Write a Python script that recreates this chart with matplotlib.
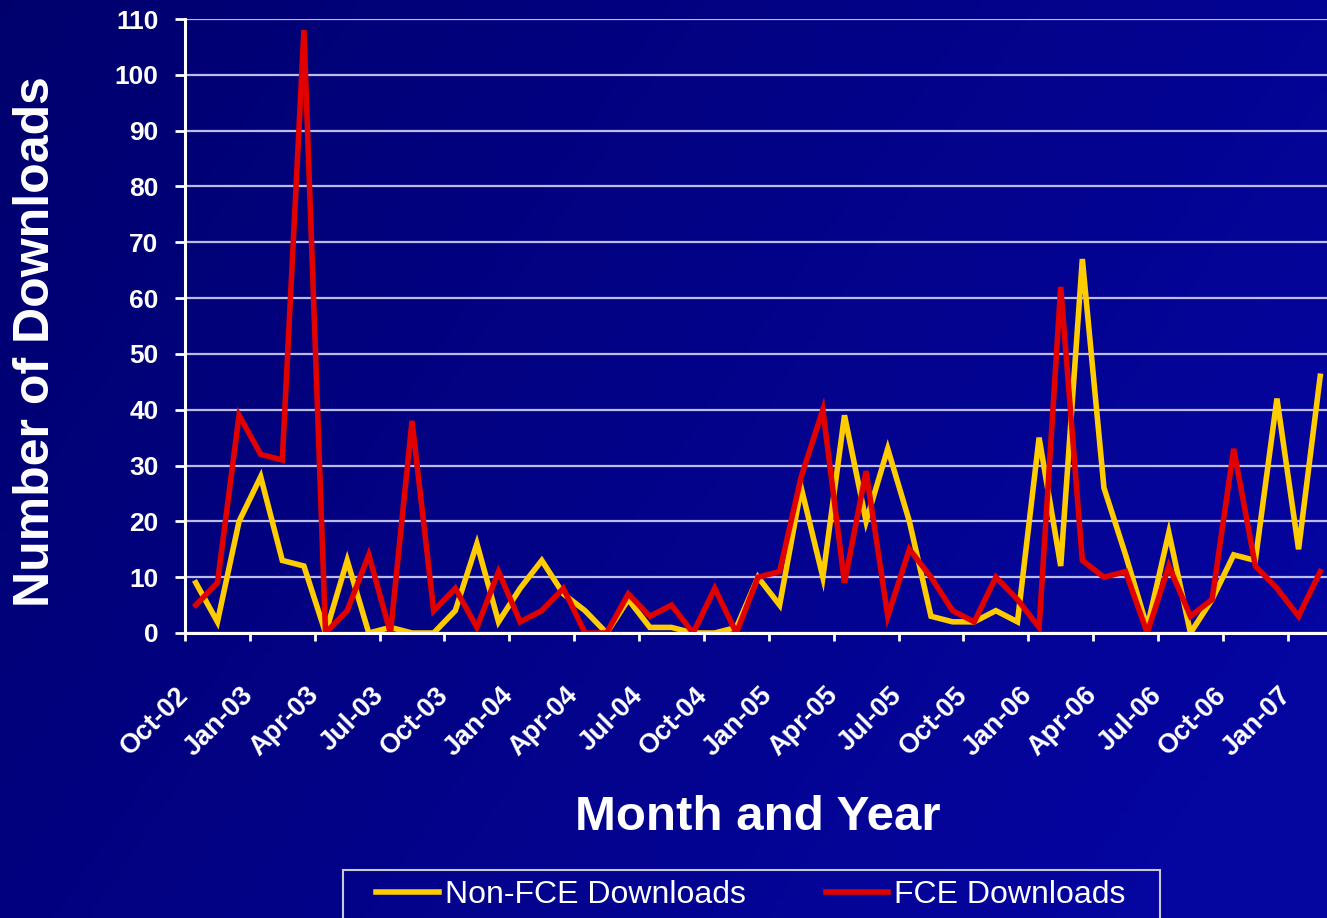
import numpy as np
import matplotlib
matplotlib.use("Agg")
import matplotlib.pyplot as plt
from matplotlib.patches import Rectangle

# monthly downloads, Oct-02 .. Feb-07
non_fce = [9, 2, 20, 28, 13, 12, 0, 13, 0, 1,
           0, 0, 4, 16, 2, 8, 13, 7, 4, 0,
           6, 1, 1, 0, 0, 1, 10, 5, 26, 10,
           39, 20, 33, 20, 3, 2, 2, 4, 2, 35,
           12, 67, 26, 14, 1, 18, 0, 6, 14, 13,
           42, 15, 46]
fce = [5, 9, 39, 32, 31, 108, 0, 4, 14, 0,
       38, 4, 8, 1, 11, 2, 4, 8, 0, 0,
       7, 3, 5, 0, 8, 0, 10, 11, 28, 40,
       9, 29, 3, 15, 10, 4, 2, 10, 6, 1,
       62, 13, 10, 11, 0, 12, 3, 6, 33, 12,
       8, 3, 11]
tick_labels = ["Oct-02", "Jan-03", "Apr-03", "Jul-03", "Oct-03", "Jan-04",
               "Apr-04", "Jul-04", "Oct-04", "Jan-05", "Apr-05", "Jul-05",
               "Oct-05", "Jan-06", "Apr-06", "Jul-06", "Oct-06", "Jan-07"]
y_ticks = list(range(0, 111, 10))

plt.rcParams['font.family'] = ['Liberation Sans', 'DejaVu Sans']

W, H = 1327, 918
fig = plt.figure(figsize=(W / 100, H / 100), dpi=100)

# gradient background
bg = fig.add_axes([0, 0, 1, 1], zorder=-10)
gx, gy = np.meshgrid(np.linspace(0, 1, 200), np.linspace(0, 1, 200))
t = np.clip(0.75 * gx + 0.35 * gy, 0, 1)
dark = np.array([0.0, 0.0, 0.43])
bright = np.array([0.02, 0.02, 0.63])
img = dark + (bright - dark) * t[..., None]
bg.imshow(img, aspect='auto', extent=[0, 1, 1, 0])
bg.set_axis_off()

left = 185 / W
bottom = 1 - 633 / H
top = 1 - 19 / H
right = 1331 / W
ax = fig.add_axes([left, bottom, right - left, top - bottom])
ax.patch.set_alpha(0)

x = np.arange(len(non_fce))
l1, = ax.plot(x, non_fce, color='#FFCC00', lw=4, label='Non-FCE Downloads',
              solid_joinstyle='miter')
l2, = ax.plot(x, fce, color='#E00000', lw=4, label='FCE Downloads',
              solid_joinstyle='miter')

ax.set_xlim(-0.5, len(non_fce) - 0.5)
ax.set_ylim(0, 110)
ax.set_yticks(y_ticks)
ax.yaxis.grid(True, color='#BCBCE8', lw=1.6)
ax.set_axisbelow(True)

for s in ['top', 'right']:
    ax.spines[s].set_visible(False)
for s in ['left', 'bottom']:
    ax.spines[s].set_color('white')
    ax.spines[s].set_linewidth(2.2)

ax.set_xticks(np.arange(0, len(non_fce), 3) - 0.5)
ax.set_xticklabels(tick_labels, rotation=45, ha='right', va='center',
                   rotation_mode='anchor')
ax.tick_params(axis='x', colors='white', length=6, width=2, pad=36,
               labelsize=19.5)
ax.tick_params(axis='y', colors='white', length=7, width=2, pad=12,
               labelsize=19)
for lab in ax.get_xticklabels() + ax.get_yticklabels():
    lab.set_fontweight('bold')

fig.text(36 / W, 1 - 342 / H, 'Number of Downloads', rotation=90,
         ha='center', va='center', color='white', fontsize=36,
         fontweight='bold')
fig.text(758 / W, 1 - 818 / H, 'Month and Year', ha='center', va='center',
         color='white', fontsize=35.5, fontweight='bold')

# legend box (runs off the bottom edge)
fig.patches.append(Rectangle((343 / W, -0.05), (1160 - 343) / W,
                             0.05 + 1 - 870 / H, transform=fig.transFigure,
                             fill=False, edgecolor='#C8C8D8', lw=1.5))
fig.legend(handles=[l1, l2], loc='center', ncol=2,
           bbox_to_anchor=(751 / W, 1 - 895 / H), frameon=False,
           fontsize=23, labelcolor='white', handlelength=1.95,
           handletextpad=0.2, columnspacing=2.5)

fig.savefig('out.png', dpi=100)
